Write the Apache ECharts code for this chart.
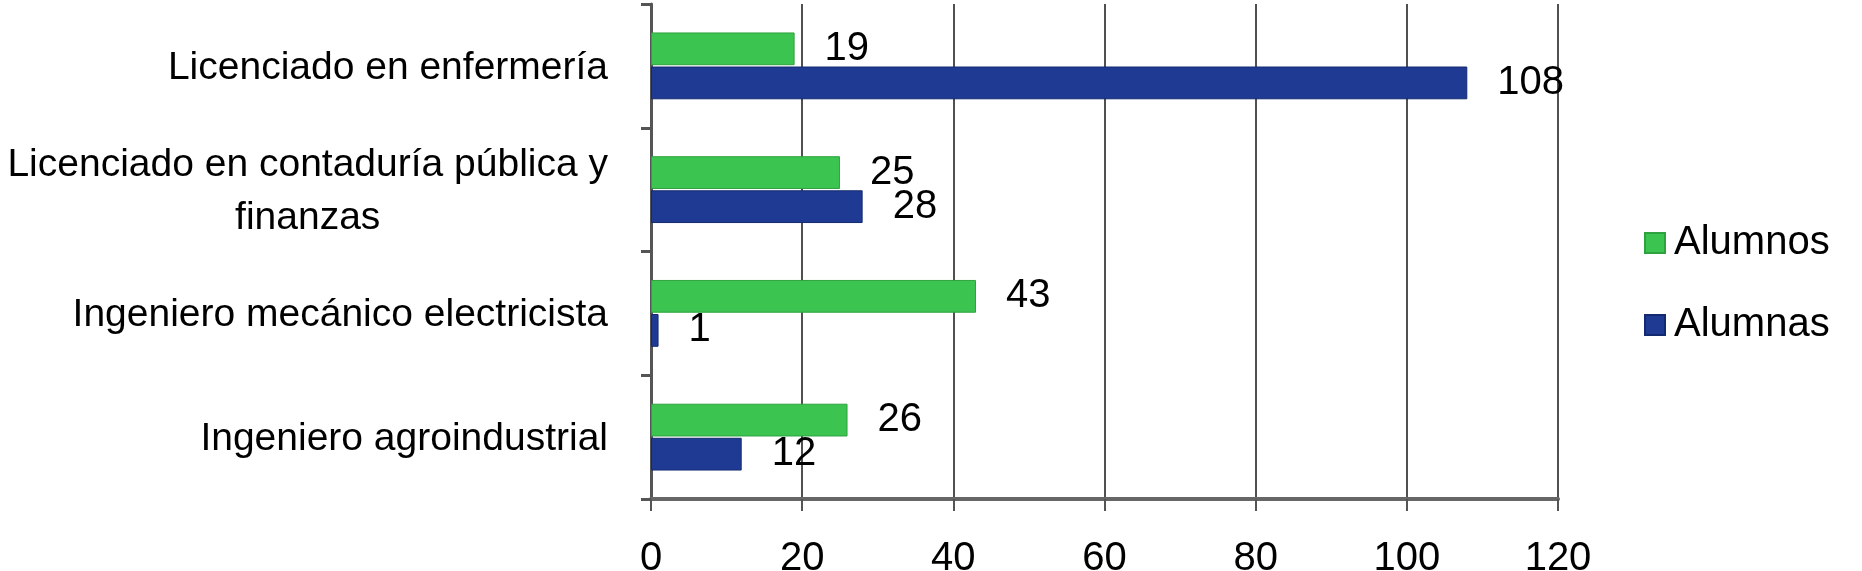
<!DOCTYPE html>
<html>
<head>
<meta charset="utf-8">
<script src="https://cdn.jsdelivr.net/npm/echarts@6/dist/echarts.min.js"></script>
<style>
html,body{margin:0;padding:0;background:#fff;}
#chart{width:1862px;height:571px;}
</style>
</head>
<body>
<div id="chart"></div>
<script>
const categories = [
  "Ingeniero agroindustrial",
  "Ingeniero mecánico electricista",
  "Licenciado en contaduría pública y\nfinanzas",
  "Licenciado en enfermería"
];
const alumnos = [26, 43, 25, 19];
const alumnas = [12, 1, 28, 108];
const seriesNames = ["Alumnos", "Alumnas"];
const xTicks = { min: 0, max: 120, interval: 20 };

const FONT = "'Liberation Sans', Arial, sans-serif";
const FS = 40;
const FSY = 39;
const chart = echarts.init(document.getElementById('chart'), null, { renderer: 'canvas' });

const labelStyle = {
  show: true,
  position: 'right',
  distance: 30,
  color: '#000',
  fontSize: FS,
  fontFamily: FONT
};

chart.setOption({
  animation: false,
  backgroundColor: '#fff',
  grid: { left: 651, right: 304, top: 4, bottom: 72, containLabel: false, outerBoundsMode: 'none' },
  legend: {
    orient: 'vertical',
    left: 1639,
    top: 218,
    itemWidth: 20,
    itemHeight: 20,
    itemGap: 42,
    icon: 'rect',
    textStyle: { fontSize: FS, fontFamily: FONT, color: '#000', padding: [0, 0, 0, 4] },
    data: seriesNames
  },
  xAxis: {
    type: 'value',
    min: xTicks.min,
    max: xTicks.max,
    interval: xTicks.interval,
    axisLine: { show: true, lineStyle: { color: '#666', width: 4 } },
    axisTick: { show: true, length: 12, lineStyle: { color: '#555', width: 2 } },
    axisLabel: { margin: 40, fontSize: FS, fontFamily: FONT, color: '#000', verticalAlign: 'top' },
    splitLine: { show: true, lineStyle: { color: '#505050', width: 2 } }
  },
  yAxis: {
    type: 'category',
    data: categories,
    axisLine: { show: true, lineStyle: { color: '#555', width: 3 } },
    axisTick: { show: true, length: 10, inside: false, lineStyle: { color: '#555', width: 3 } },
    axisLabel: {
      margin: 43,
      align: 'right',
      fontSize: FSY,
      fontFamily: FONT,
      color: '#000',
      lineHeight: 53,
      formatter: function (v) {
        return v.split('\n').map(function (s) { return '{c|' + s + '}'; }).join('\n');
      },
      rich: { c: { align: 'center', fontSize: FSY, fontFamily: FONT, color: '#000', lineHeight: 53, padding: [4, 0, 0, 0] } }
    },
    splitLine: { show: false }
  },
  series: [
    {
      name: seriesNames[0],
      type: 'bar',
      data: alumnos,
      barGap: '4%',
      barCategoryGap: '46%',
      itemStyle: { color: '#3cc451', borderColor: '#2ea23f', borderWidth: 1 },
      label: labelStyle
    },
    {
      name: seriesNames[1],
      type: 'bar',
      data: alumnas,
      barGap: '4%',
      barCategoryGap: '46%',
      itemStyle: { color: '#1f3a93', borderColor: '#142a70', borderWidth: 1 },
      label: labelStyle
    }
  ]
});
</script>
</body>
</html>
